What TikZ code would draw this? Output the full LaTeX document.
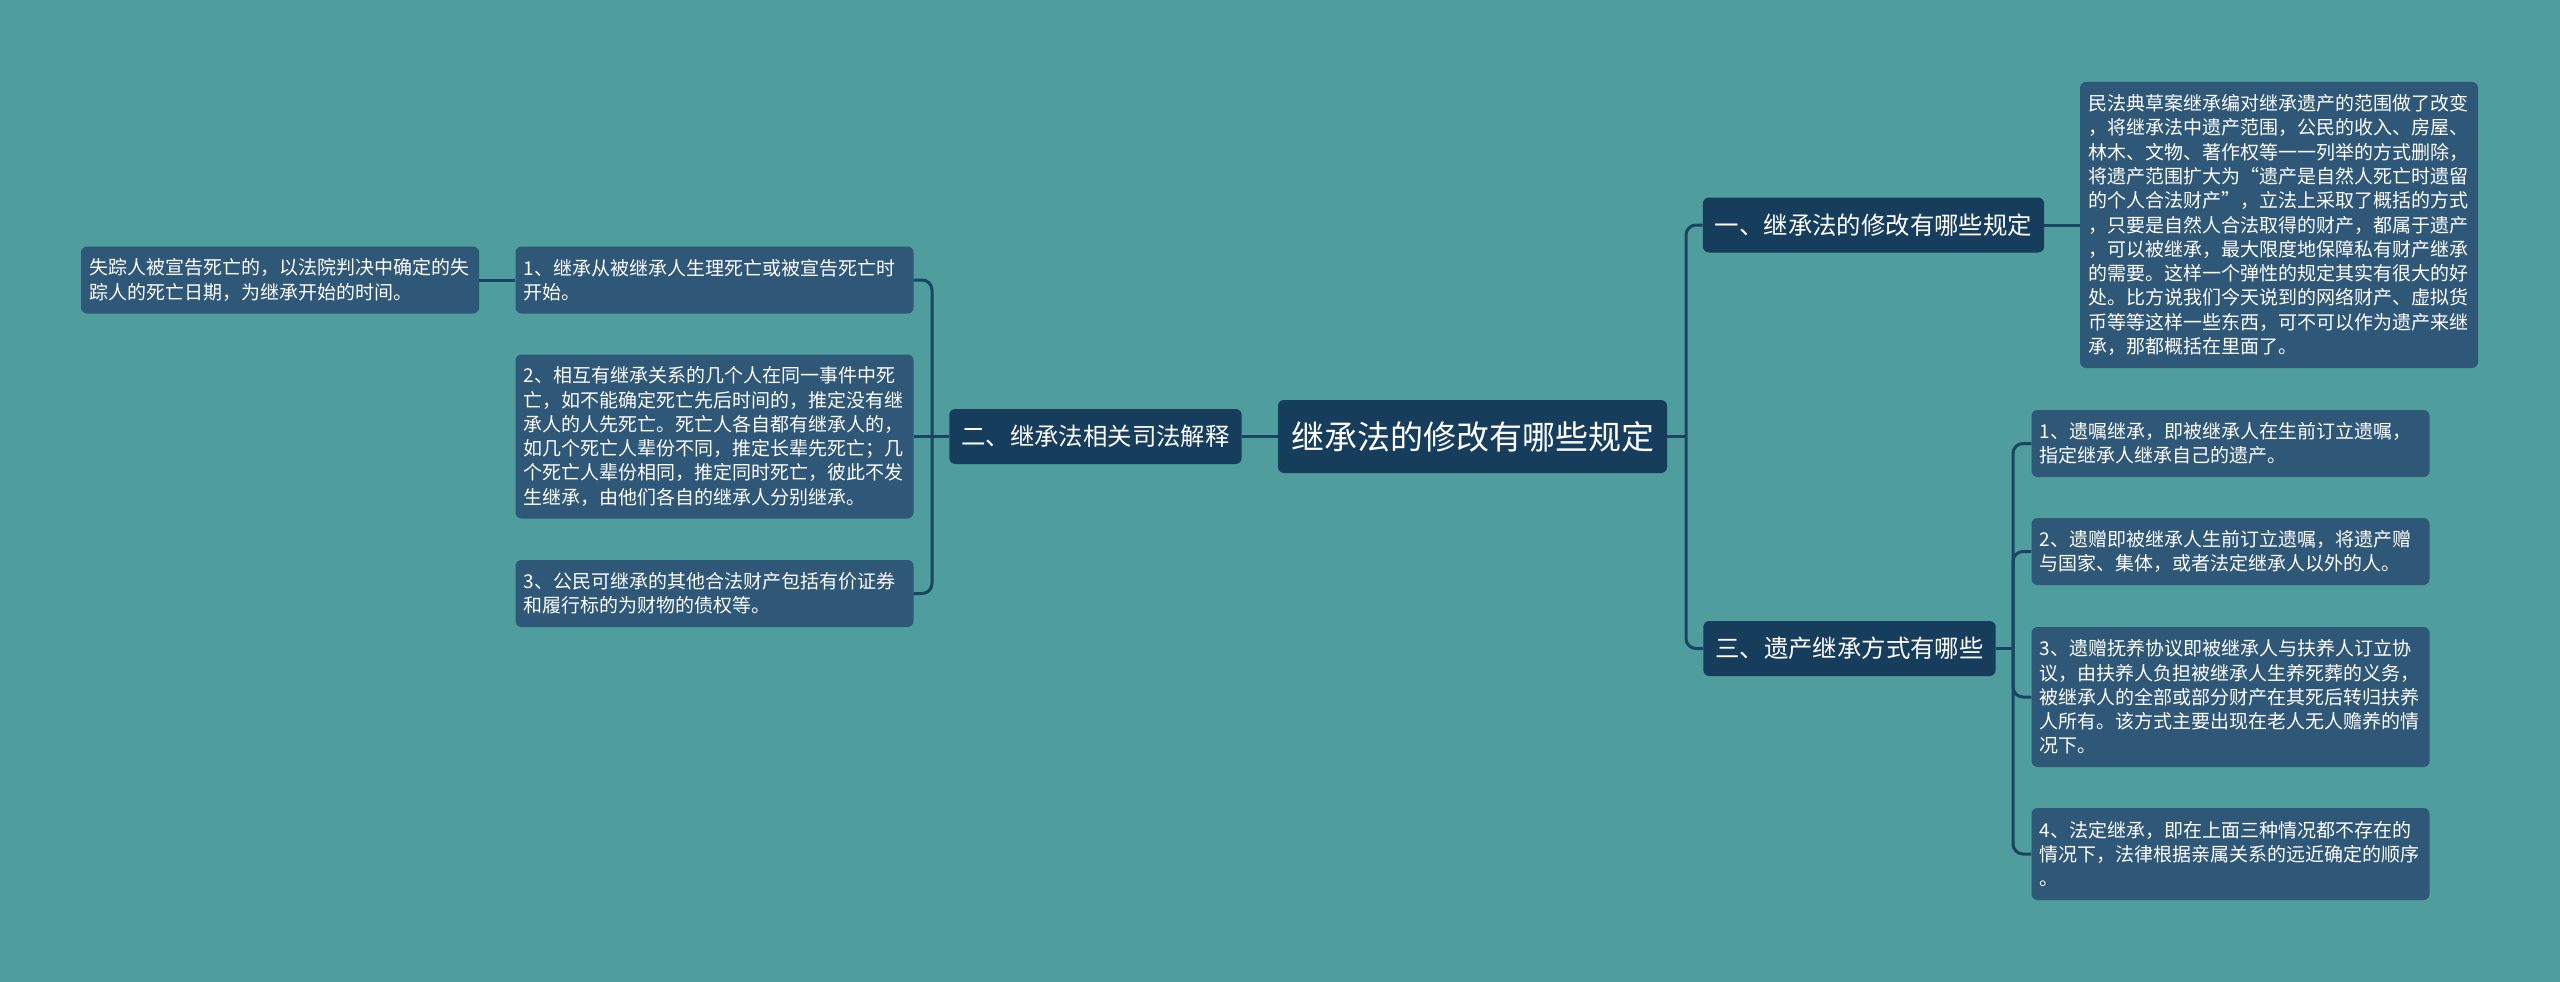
\documentclass[tikz,border=0pt]{standalone}
\usepackage{fontspec}
\setmainfont{Noto Sans CJK SC}
\definecolor{bg}{HTML}{4F9D9D}
\definecolor{cdark}{HTML}{173D5D}
\definecolor{cleaf}{HTML}{2E5778}
\definecolor{cline}{HTML}{1A4461}
\tikzset{
 rootbox/.style={fill=cdark, rounded corners=6pt, text=white, font=\fontsize{33}{38}\selectfont, minimum width=389pt, minimum height=73pt, inner sep=0pt},
 lvlbox/.style={fill=cdark, rounded corners=6pt, text=white, font=\fontsize{24.4}{29}\selectfont, minimum height=55pt, inner xsep=12pt, inner ysep=0pt},
 leafbox/.style={fill=cleaf, rounded corners=6pt, text=white, font=\fontsize{19}{24.3}\selectfont, text width=382pt, align=left, inner xsep=8pt, inner ysep=0pt},
 link/.style={draw=cline, line width=3pt},
 rlink/.style={draw=cline, line width=3pt, rounded corners=10pt},
}
\begin{document}
\begin{tikzpicture}[x=1pt,y=-1pt]
\fill[bg] (0,0) rectangle (2560,982);
\useasboundingbox (0,0) rectangle (2560,982);

\node[rootbox] (c) at (1472.5,436.5) {继承法的修改有哪些规定};
\node[lvlbox] (n1) at (1873.5,225) {一、继承法的修改有哪些规定};
\node[lvlbox] (n3) at (1849.5,648.5) {三、遗产继承方式有哪些};
\node[lvlbox] (n2) at (1095.5,436.5) {二、继承法相关司法解释};

\node[leafbox, minimum height=286pt] (t) at (2279,225) {民法典草案继承编对继承遗产的范围做了改变\\，将继承法中遗产范围，公民的收入、房屋、\\林木、文物、著作权等一一列举的方式删除，\\将遗产范围扩大为“遗产是自然人死亡时遗留\\的个人合法财产”，立法上采取了概括的方式\\，只要是自然人合法取得的财产，都属于遗产\\，可以被继承，最大限度地保障私有财产继承\\的需要。这样一个弹性的规定其实有很大的好\\处。比方说我们今天说到的网络财产、虚拟货\\币等等这样一些东西，可不可以作为遗产来继\\承，那都概括在里面了。};

\node[leafbox, minimum height=67pt] (r1) at (2230.5,443.5) {1、遗嘱继承，即被继承人在生前订立遗嘱，\\指定继承人继承自己的遗产。};
\node[leafbox, minimum height=67pt] (r2) at (2230.5,551.5) {2、遗赠即被继承人生前订立遗嘱，将遗产赠\\与国家、集体，或者法定继承人以外的人。};
\node[leafbox, minimum height=140pt] (r3) at (2230.5,697) {3、遗赠抚养协议即被继承人与扶养人订立协\\议，由扶养人负担被继承人生养死葬的义务，\\被继承人的全部或部分财产在其死后转归扶养\\人所有。该方式主要出现在老人无人赡养的情\\况下。};
\node[leafbox, minimum height=92pt] (r4) at (2230.5,854) {4、法定继承，即在上面三种情况都不存在的\\情况下，法律根据亲属关系的远近确定的顺序\\。};

\node[leafbox, minimum height=67pt] (l1) at (714.5,280) {1、继承从被继承人生理死亡或被宣告死亡时\\开始。};
\node[leafbox, minimum height=164pt] (l2) at (714.5,436.5) {2、相互有继承关系的几个人在同一事件中死\\亡，如不能确定死亡先后时间的，推定没有继\\承人的人先死亡。死亡人各自都有继承人的，\\如几个死亡人辈份不同，推定长辈先死亡；几\\个死亡人辈份相同，推定同时死亡，彼此不发\\生继承，由他们各自的继承人分别继承。};
\node[leafbox, minimum height=67pt] (l3) at (714.5,593.5) {3、公民可继承的其他合法财产包括有价证券\\和履行标的为财物的债权等。};
\node[leafbox, minimum height=67pt] (ll) at (280,280) {失踪人被宣告死亡的，以法院判决中确定的失\\踪人的死亡日期，为继承开始的时间。};

\coordinate (rt) at (1686,436.5);
\coordinate (lt) at (932,436.5);
\coordinate (bt) at (2013,648.5);

\draw[link] (c.east) -- (rt);
\draw[rlink] (n1.west) -| (rt);
\draw[rlink] (n3.west) -| (rt);
\draw[link] (n1.east) -- (t.west);

\draw[link] (n3.east) -- (bt);
\draw[rlink] (r1.west) -| (bt);
\draw[rlink] (r2.west) -| (bt);
\draw[rlink] (r3.west) -| (bt);
\draw[rlink] (r4.west) -| (bt);

\draw[link] (c.west) -- (n2.east);
\draw[link] (n2.west) -- (lt);
\draw[link] (lt) -- (l2.east);
\draw[rlink] (l1.east) -| (lt);
\draw[rlink] (l3.east) -| (lt);
\draw[link] (l1.west) -- (ll.east);
\end{tikzpicture}
\end{document}
